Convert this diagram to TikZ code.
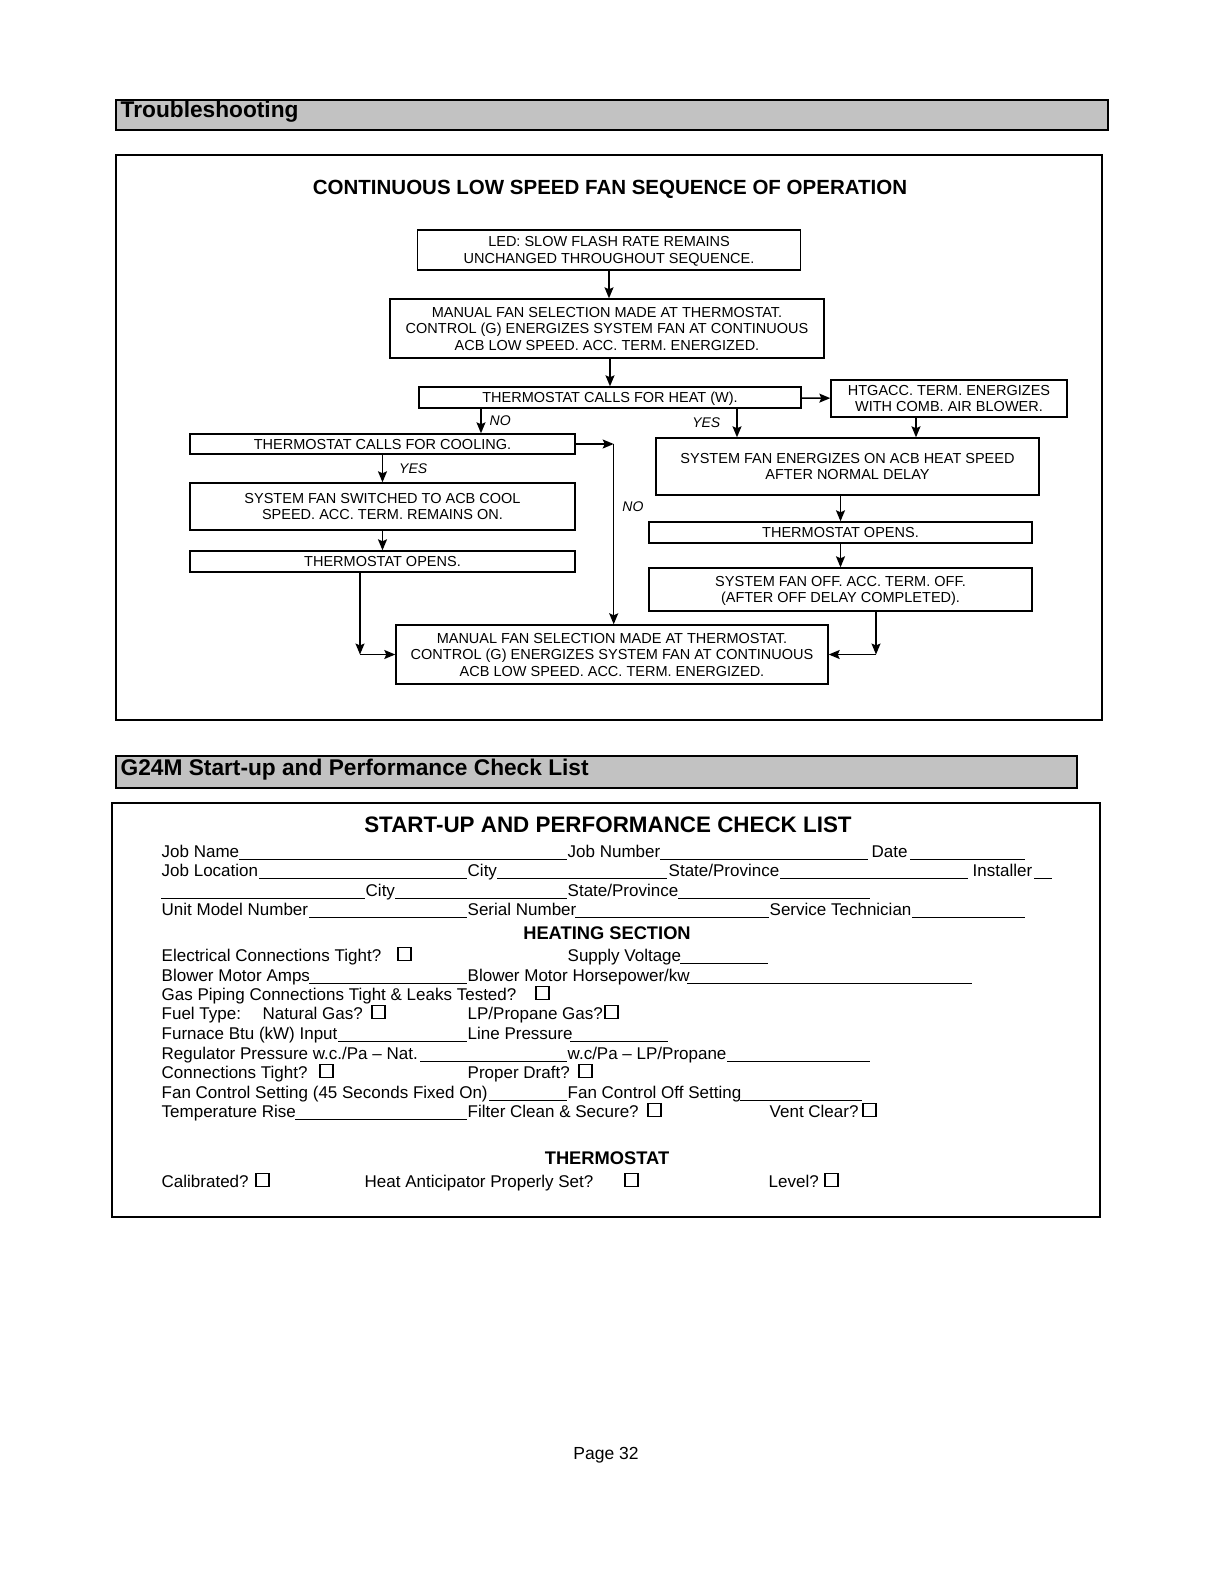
\documentclass[tikz,border=0pt]{standalone}
\usepackage{fontspec}
\setmainfont{Liberation Sans}
\usetikzlibrary{arrows.meta}

\tikzset{
  box/.style={shape=rectangle, draw, line width=1.4pt, align=center, inner sep=0pt,
    text depth=-5pt, font=\fontsize{14.5}{16.5}\selectfont},
  lbl/.style={font=\fontsize{14}{16}\selectfont\itshape, inner sep=4pt},
  frame/.style={line width=2pt},
  hdr/.style={fill=black!24, draw, line width=1.3pt},
  hdrtext/.style={anchor=west, inner sep=0pt, font=\fontsize{22.7}{26}\selectfont\bfseries},
  txt/.style={anchor=base west, inner sep=0pt, font=\fontsize{17}{20}\selectfont},
  head/.style={anchor=base, inner sep=0pt, font=\fontsize{18.3}{22}\selectfont\bfseries},
  uline/.style={line width=0.8pt},
  chk/.style={draw, line width=1.5pt, minimum size=13, inner sep=0pt, anchor=south west},
}

\begin{document}
\begin{tikzpicture}[x=1pt, y=-1pt, >={Stealth[length=11pt, width=9pt, inset=2pt]}, line width=1.4pt]
\fill[white] (0,0) rectangle (1210,1572);
\useasboundingbox (0,0) rectangle (1210,1572);

% troubleshooting header and frame
\draw[hdr] (116,100) rectangle (1108,130);
\node (trouble) at (120,112) [hdrtext] {Troubleshooting};
\draw[frame] (116,155) rectangle (1102,720);
\node (seqtitle) at (610,189) [font=\fontsize{20.5}{24}\selectfont\bfseries] {CONTINUOUS LOW SPEED FAN SEQUENCE OF OPERATION};

% flow chart boxes
\node      (led) at (609,250)   [box, minimum width=383, minimum height=40] {LED: SLOW FLASH RATE REMAINS\\UNCHANGED THROUGHOUT SEQUENCE.};
\node   (manual) at (607,328.5) [box, minimum width=434, minimum height=59] {MANUAL FAN SELECTION MADE AT THERMOSTAT.\\CONTROL (G) ENERGIZES SYSTEM FAN AT CONTINUOUS\\ACB LOW SPEED. ACC. TERM. ENERGIZED.};
\node     (heat) at (610,397.5) [box, minimum width=382, minimum height=21] {THERMOSTAT CALLS FOR HEAT (W).};
\node      (htg) at (949,398.5) [box, minimum width=236, minimum height=37] {HTGACC. TERM. ENERGIZES\\WITH COMB. AIR BLOWER.};
\node     (cool) at (382.5,444) [box, minimum width=385, minimum height=20] {THERMOSTAT CALLS FOR COOLING.};
\node  (heatfan) at (847.5,466.5) [box, minimum width=383, minimum height=57] {SYSTEM FAN ENERGIZES ON ACB HEAT SPEED\\AFTER NORMAL DELAY};
\node  (coolfan) at (382.5,506.5) [box, minimum width=385, minimum height=47] {SYSTEM FAN SWITCHED TO ACB COOL\\SPEED. ACC. TERM. REMAINS ON.};
\node (opencool) at (382.5,561.5) [box, minimum width=385, minimum height=21] {THERMOSTAT OPENS.};
\node (openheat) at (840.5,532.5) [box, minimum width=383, minimum height=21] {THERMOSTAT OPENS.};
\node   (fanoff) at (840.5,589.5) [box, minimum width=383, minimum height=43] {SYSTEM FAN OFF. ACC. TERM. OFF.\\(AFTER OFF DELAY COMPLETED).};
\node (lowspeed) at (612,654.5) [box, minimum width=432, minimum height=59] {MANUAL FAN SELECTION MADE AT THERMOSTAT.\\CONTROL (G) ENERGIZES SYSTEM FAN AT CONTINUOUS\\ACB LOW SPEED. ACC. TERM. ENERGIZED.};

% connectors
\draw [->] (led) -- (led |- manual.north);
\draw [->] (manual.south -| heat) -- (heat.north);
\draw [->] (heat) -- (htg);
\draw [->] ([xshift=-129]heat.south) -- ([xshift=-129]heat.south |- cool.north) node[midway, right, lbl, xshift=4] {NO};
\draw [->] ([xshift=127]heat.south) -- ([xshift=127]heat.south |- heatfan.north) node[midway, left, lbl, xshift=-12] {YES};
\draw [->] ([xshift=-33]htg.south) -- ([xshift=-33]htg.south |- heatfan.north);
\draw [->] (cool) -- (cool |- coolfan.north) node[midway, right, lbl, xshift=12] {YES};
\draw [->] (coolfan) -- (opencool);
\draw [->] (cool.east) -- ++(38,0) coordinate (nocorner);
\draw [->] (nocorner) -- (nocorner |- lowspeed.north) node[pos=0.35, right, lbl, xshift=4] {NO};
\draw [->] (heatfan.south -| openheat) -- (openheat.north);
\draw [->] (openheat) -- (fanoff);
\coordinate (leftcorner) at ([xshift=-22.5]opencool.south |- lowspeed.west);
\draw [->] ([xshift=-22.5]opencool.south) -- (leftcorner);
\draw [->] (leftcorner) -- (lowspeed.west);
\coordinate (rightcorner) at ([xshift=35.5]fanoff.south |- lowspeed.east);
\draw [->] ([xshift=35.5]fanoff.south) -- (rightcorner);
\draw [->] (rightcorner) -- (lowspeed.east);

% check list header and frame
\draw[hdr] (116,756) rectangle (1077,788);
\node (checkhdr) at (120,770) [hdrtext] {G24M Start-up and Performance Check List};
\draw[frame] (112,803) rectangle (1100,1217);
\node (checktitle) at (608,825) [font=\fontsize{22.4}{26}\selectfont\bfseries] {START-UP AND PERFORMANCE CHECK LIST};

% job rows
\node (jobname) at (161,857) [txt] {Job Name};
\node (jobnum)  at (567,857) [txt] {Job Number};
\node (date)    at (871,857) [txt] {Date};
\draw[uline] (239,859) -- (567,859);
\draw[uline] (660,859) -- (868,859);
\draw[uline] (910,859) -- (1025,859);
\node (jobloc)  at (161,876) [txt] {Job Location};
\node (city1)   at (467,876) [txt] {City};
\node (state1)  at (668,876) [txt] {State/Province};
\node (install) at (972,876) [txt] {Installer};
\draw[uline] (259,878) -- (467,878);
\draw[uline] (497,878) -- (667,878);
\draw[uline] (780,878) -- (968,878);
\draw[uline] (1034,878) -- (1052,878);
\node (city2)   at (365,896) [txt] {City};
\node (state2)  at (567,896) [txt] {State/Province};
\draw[uline] (161,898) -- (365,898);
\draw[uline] (395,898) -- (567,898);
\draw[uline] (678,898) -- (870,898);
\node (model)   at (161,915) [txt] {Unit Model Number};
\node (serial)  at (467,915) [txt] {Serial Number};
\node (tech)    at (769,915) [txt] {Service Technician};
\draw[uline] (309,917) -- (467,917);
\draw[uline] (575,917) -- (769,917);
\draw[uline] (912,917) -- (1025,917);

% heating section
\node (heating) at (607,939) [head] {HEATING SECTION};
\node (elec)    at (161,961) [txt] {Electrical Connections Tight?};
\node (elecbox) at (397,961) [chk] {};
\node (volt)    at (567,961) [txt] {Supply Voltage};
\draw[uline] (680,963) -- (768,963);
\node (amps)    at (161,981) [txt] {Blower Motor Amps};
\node (hp)      at (467,981) [txt] {Blower Motor Horsepower/kw};
\draw[uline] (309,983) -- (467,983);
\draw[uline] (687,983) -- (972,983);
\node (gas)     at (161,1000) [txt] {Gas Piping Connections Tight \& Leaks Tested?};
\node (gasbox)  at (535,1000) [chk] {};
\node (fuel)    at (161,1019) [txt] {Fuel Type:};
\node (natgas)  at (262,1019) [txt] {Natural Gas?};
\node (natbox)  at (371,1019) [chk] {};
\node (lpgas)   at (467,1019) [txt] {LP/Propane Gas?};
\node (lpbox)   at (604,1019) [chk] {};
\node (btu)     at (161,1039) [txt] {Furnace Btu (kW) Input};
\node (line)    at (467,1039) [txt] {Line Pressure};
\draw[uline] (338,1041) -- (467,1041);
\draw[uline] (570,1041) -- (668,1041);
\node (regnat)  at (161,1059) [txt] {Regulator Pressure w.c./Pa -- Nat.};
\node (reglp)   at (567,1059) [txt] {w.c/Pa -- LP/Propane};
\draw[uline] (420,1061) -- (567,1061);
\draw[uline] (727,1061) -- (870,1061);
\node (conn)    at (161,1078) [txt] {Connections Tight?};
\node (connbox) at (319,1078) [chk] {};
\node (draft)   at (467,1078) [txt] {Proper Draft?};
\node (draftbox) at (578,1078) [chk] {};
\node (fanon)   at (161,1098) [txt] {Fan Control Setting (45 Seconds Fixed On)};
\node (fanoffset) at (567,1098) [txt] {Fan Control Off Setting};
\draw[uline] (489,1100) -- (567,1100);
\draw[uline] (740,1100) -- (862,1100);
\node (rise)    at (161,1117) [txt] {Temperature Rise};
\node (filter)  at (467,1117) [txt] {Filter Clean \& Secure?};
\node (filtbox) at (647,1117) [chk] {};
\node (vent)    at (769,1117) [txt] {Vent Clear?};
\node (ventbox) at (862,1117) [chk] {};
\draw[uline] (295,1119) -- (467,1119);

% thermostat section
\node (thermo)  at (607,1164) [head] {THERMOSTAT};
\node (calib)   at (161,1187) [txt] {Calibrated?};
\node (calbox)  at (255,1187) [chk] {};
\node (antic)   at (364,1187) [txt] {Heat Anticipator Properly Set?};
\node (antbox)  at (624,1187) [chk] {};
\node (level)   at (768,1187) [txt] {Level?};
\node (levbox)  at (824,1187) [chk] {};

\node (page) at (606,1459) [anchor=base, inner sep=0pt, font=\fontsize{17.5}{20}\selectfont] {Page 32};
\end{tikzpicture}
\end{document}
